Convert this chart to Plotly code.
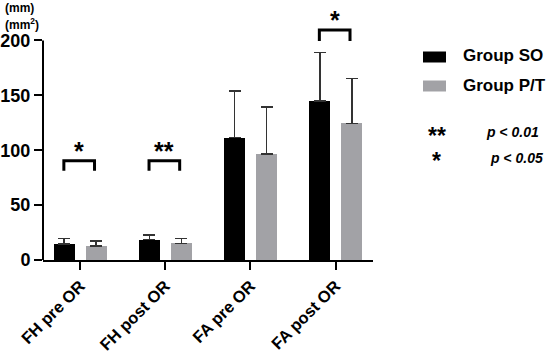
import plotly.graph_objects as go

categories = ["FH pre OR", "FH post OR", "FA pre OR", "FA post OR"]
so_mean = [14.5, 18.5, 111.5, 145.0]
so_err = [5.2, 4.2, 42.5, 44.0]
pt_mean = [12.5, 15.2, 96.4, 124.5]
pt_err = [5.0, 4.5, 43.0, 41.0]
tick_vals = [0, 50, 100, 150, 200]

# significance brackets: (category index, bracket top value, leg bottom value, label)
sig_cat = [0, 1, 3]
sig_top = [90.5, 90.5, 209.5]
sig_bottom = [81.4, 81.4, 199.5]
sig_label = ["*", "**", "*"]

BLACK = "#000000"
GRAY = "#A2A2A6"
FONT = "Liberation Sans, Arial, sans-serif"

W, H = 550, 355
ML, MR, MT, MB = 43, 177, 13, 95


def px(x):
    return (x - ML) / (W - ML - MR)


def py(y):
    return (H - MB - y) / (H - MT - MB)


x_idx = list(range(len(categories)))

fig = go.Figure()
fig.add_trace(go.Bar(
    x=x_idx, y=so_mean, width=0.25, offset=-0.31,
    marker=dict(color=BLACK, line=dict(width=0)),
    error_y=dict(type="data", array=so_err, arrayminus=[0]*4, symmetric=False,
                 color="#333333", thickness=1.6, width=6),
    name="Group SO", showlegend=False,
))
fig.add_trace(go.Bar(
    x=x_idx, y=pt_mean, width=0.25, offset=0.065,
    marker=dict(color=GRAY, line=dict(width=0)),
    error_y=dict(type="data", array=pt_err, arrayminus=[0]*4, symmetric=False,
                 color="#333333", thickness=1.6, width=6),
    name="Group P/T", showlegend=False,
))

shapes = []
annotations = []
for c, top, bot, lab in zip(sig_cat, sig_top, sig_bottom, sig_label):
    x0, x1 = c - 0.19, c + 0.17
    shapes.append(dict(type="path", xref="x", yref="y",
                       path=f"M {x0},{bot} L {x0},{top} L {x1},{top} L {x1},{bot}",
                       line=dict(color=BLACK, width=3)))
    annotations.append(dict(x=(x0 + x1) / 2, y=top, xref="x", yref="y",
                            text=f"<b>{lab}</b>", showarrow=False,
                            yanchor="bottom", yshift=-6,
                            font=dict(size=25, color=BLACK, family=FONT)))

# y axis line only from 0 to 200
shapes.append(dict(type="line", xref="x domain", yref="y", x0=0, x1=0, y0=0, y1=200,
                   line=dict(color=BLACK, width=2)))

# manual legend
legend_items = [("Group SO", BLACK, 57), ("Group P/T", GRAY, 86)]
for txt, col, yc in legend_items:
    shapes.append(dict(type="rect", xref="paper", yref="paper",
                       x0=px(423), x1=px(446),
                       y0=py(yc + 5.5), y1=py(yc - 5.5),
                       fillcolor=col, line=dict(width=0)))
    annotations.append(dict(x=px(461), y=py(yc - 1), xref="paper", yref="paper",
                            text=f"<b>{txt}</b>", showarrow=False,
                            xanchor="left", yanchor="middle",
                            font=dict(size=17, color=BLACK, family=FONT)))

annotations.append(dict(x=px(436.5), y=py(136), xref="paper", yref="paper",
                        text="<b>**</b>", showarrow=False, xanchor="center", yanchor="middle",
                        font=dict(size=23, color=BLACK, family=FONT)))
annotations.append(dict(x=px(436), y=py(161), xref="paper", yref="paper",
                        text="<b>*</b>", showarrow=False, xanchor="center", yanchor="middle",
                        font=dict(size=23, color=BLACK, family=FONT)))
annotations.append(dict(x=px(484), y=py(132), xref="paper", yref="paper",
                        text="<b><i>p</i> < <i>0.01</i></b>", showarrow=False,
                        xanchor="left", yanchor="middle",
                        font=dict(size=14, color=BLACK, family=FONT)))
annotations.append(dict(x=px(488), y=py(158), xref="paper", yref="paper",
                        text="<b><i>p</i> < <i>0.05</i></b>", showarrow=False,
                        xanchor="left", yanchor="middle",
                        font=dict(size=14, color=BLACK, family=FONT)))

# units
annotations.append(dict(x=px(3), y=py(8), xref="paper", yref="paper",
                        text="<b>(mm)</b>", showarrow=False, xanchor="left", yanchor="middle",
                        font=dict(size=12, color=BLACK, family=FONT)))
annotations.append(dict(x=px(3), y=py(24), xref="paper", yref="paper",
                        text="<b>(mm<sup>2</sup>)</b>", showarrow=False, xanchor="left",
                        yanchor="middle",
                        font=dict(size=12, color=BLACK, family=FONT)))

fig.update_layout(
    width=W, height=H,
    margin=dict(l=ML, r=MR, t=MT, b=MB, autoexpand=False),
    plot_bgcolor="white", paper_bgcolor="white",
    shapes=shapes, annotations=annotations,
    font=dict(family=FONT, color=BLACK),
    bargap=0,
)
fig.update_xaxes(
    range=[-0.435, 3.44], tickmode="array", tickvals=x_idx,
    ticktext=[f"<b>{c}</b>" for c in categories], tickangle=-45,
    showline=True, linecolor=BLACK, linewidth=2,
    ticks="outside", ticklen=8, tickwidth=2, tickcolor=BLACK,
    tickfont=dict(size=16.5, color=BLACK, family=FONT),
    showgrid=False, zeroline=False, automargin=False,
)
fig.update_yaxes(
    range=[0, 225], tickmode="array", tickvals=tick_vals,
    ticktext=[f"<b>{v}</b>" for v in tick_vals],
    showline=False, ticks="outside", ticklen=8, tickwidth=2, tickcolor=BLACK,
    tickfont=dict(size=18, color=BLACK, family=FONT),
    showgrid=False, zeroline=False, automargin=False,
)

fig.write_html("out.html",
               config={"displayModeBar": False},
               post_script="document.body.style.margin='0px';"
                           "document.body.style.overflow='hidden';")
